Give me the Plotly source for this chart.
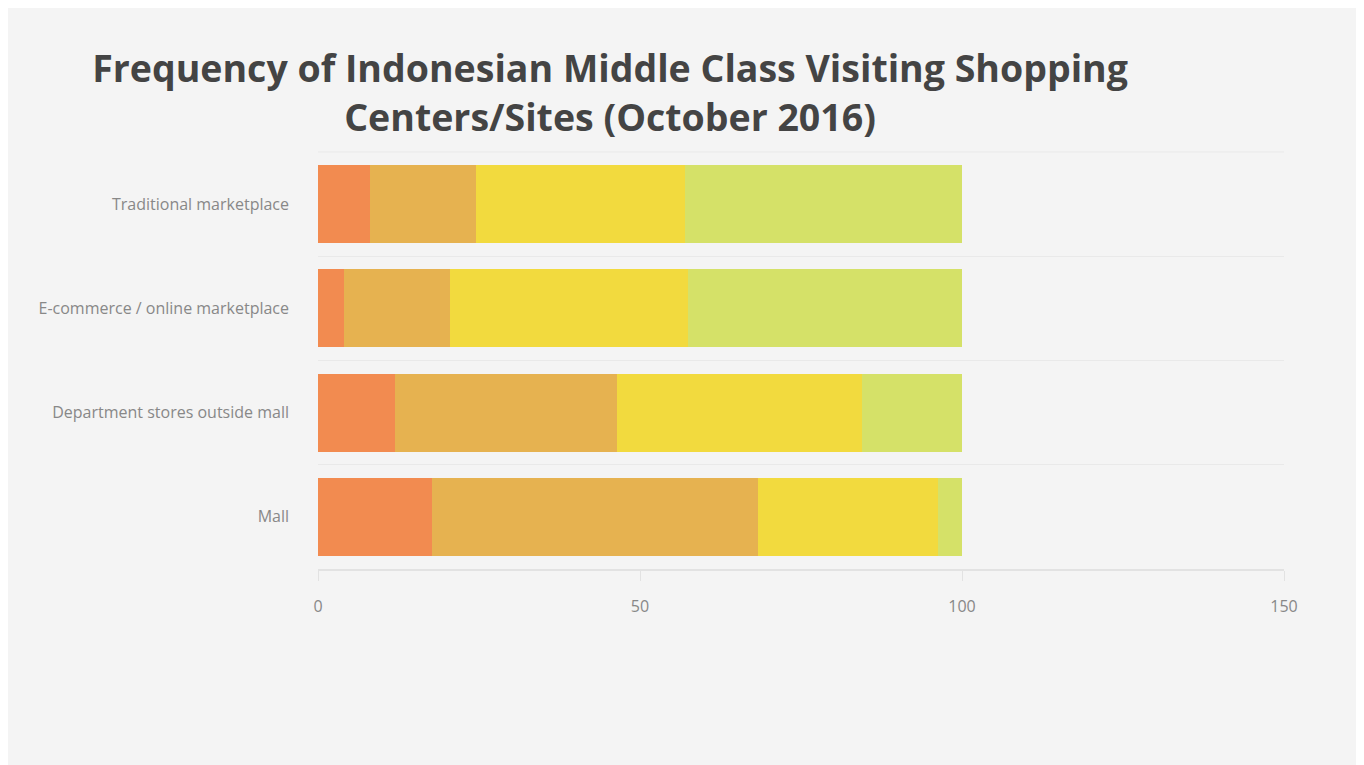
import plotly.graph_objects as go

categories = ["Mall", "Department stores outside mall", "E-commerce / online marketplace", "Traditional marketplace"]
series_names = ["Very often", "Often", "Sometimes", "Rarely"]
very_often = [17.7, 12.0, 4.0, 8.0]
often = [50.6, 34.5, 16.5, 16.5]
sometimes = [28.0, 38.0, 37.0, 32.5]
rarely = [3.7, 15.5, 42.5, 43.0]
colors = ["#F28B50", "#E6B250", "#F2DA3E", "#D5E168"]
x_ticks = [0, 50, 100, 150]

title_text = "Frequency of Indonesian Middle Class Visiting Shopping<br>Centers/Sites (October 2016)"

W, H = 1356, 757
L, R, T, B = 310, 80, 144, 196

fig = go.Figure()
for name, vals, col in zip(series_names, [very_often, often, sometimes, rarely], colors):
    fig.add_trace(go.Bar(y=categories, x=vals, name=name, orientation="h",
                         marker=dict(color=col, line=dict(width=0))))

fig.update_layout(
    barmode="stack",
    bargap=0.25,
    showlegend=False,
    width=W, height=H,
    paper_bgcolor="#f4f4f4",
    plot_bgcolor="#f4f4f4",
    margin=dict(l=L, r=R, t=T, b=B),
    title=dict(text=title_text, x=0.444, xanchor="center", y=0.902, yanchor="top",
               font=dict(family="Open Sans", size=37.5, color="#444444", weight="bold")),
    font=dict(family="Open Sans", size=16, color="#777777"),
)
fig.update_xaxes(range=[0, 150], tickvals=x_ticks, showgrid=False, zeroline=False,
                 showline=True, linecolor="#e2e2e2", linewidth=2, automargin=False,
                 ticks="outside", ticklen=10, tickcolor="#e2e2e2",
                 ticklabelstandoff=12, tickfont=dict(size=16, color="#888888"))
fig.update_yaxes(tickson="boundaries", showgrid=True, gridcolor="#e9e9e9", gridwidth=1,
                 ticks="", ticklabelstandoff=28, automargin=False,
                 tickfont=dict(size=16, color="#888888"))
fig.add_shape(type="line", xref="paper", yref="paper", x0=0, x1=1, y0=1, y1=1,
              line=dict(color="#e9e9e9", width=1), layer="below")

fig.write_html("out.html")
